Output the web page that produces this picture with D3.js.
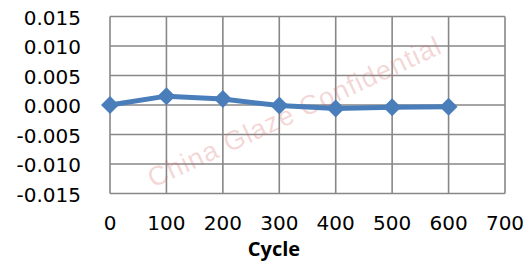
<!DOCTYPE html>
<html>
<head>
<meta charset="utf-8">
<script src="https://cdn.jsdelivr.net/npm/d3@7"></script>
<style>
html,body{margin:0;padding:0;background:#fff;}
svg{display:block;}
</style>
</head>
<body>
<svg id="chart" width="528" height="261"></svg>
<script>
const cycles = [0, 100, 200, 300, 400, 500, 600];
const values = [0.0000, 0.0015, 0.0010, -0.0001, -0.0006, -0.0004, -0.0003];
const xTicks = [0, 100, 200, 300, 400, 500, 600, 700];
const yTicks = [-0.015, -0.010, -0.005, 0.000, 0.005, 0.010, 0.015];
const xTitle = "Cycle";
const watermark = "China Glaze Confidential";

const svg = d3.select("#chart");
const x = d3.scaleLinear().domain([0, 700]).range([110, 505]);
const y = d3.scaleLinear().domain([-0.015, 0.015]).range([193.5, 16.5]);

const grid = svg.append("g");
grid.selectAll("line.h").data(yTicks).enter().append("line")
  .attr("x1", x(0)).attr("x2", x(700))
  .attr("y1", d => y(d)).attr("y2", d => y(d))
  .attr("stroke", "#878787").attr("stroke-width", 1.6);
grid.selectAll("line.v").data(xTicks).enter().append("line")
  .attr("y1", y(-0.015)).attr("y2", y(0.015))
  .attr("x1", d => x(d)).attr("x2", d => x(d))
  .attr("stroke", "#878787").attr("stroke-width", 1.6);

// y labels
svg.append("g").selectAll("text").data(yTicks).enter().append("text")
  .attr("x", 81).attr("y", d => y(d) + 8)
  .attr("text-anchor", "end")
  .attr("font-family", "DejaVu Sans")
  .attr("font-size", 20).attr("fill", "#000")
  .text(d => d3.format(".3f")(d).replace("−", "-"));

// x labels
svg.append("g").selectAll("text").data(xTicks).enter().append("text")
  .attr("x", d => x(d)).attr("y", 230)
  .attr("text-anchor", "middle")
  .attr("font-family", "DejaVu Sans")
  .attr("font-size", 20).attr("fill", "#000")
  .text(d => d);

svg.append("text").attr("x", 274).attr("y", 256)
  .attr("text-anchor", "middle")
  .attr("font-family", "Open Sans").attr("font-weight", "bold")
  .attr("font-size", 20).attr("fill", "#000")
  .text(xTitle);

// watermark
svg.append("text")
  .attr("transform", "translate(153,188) rotate(-25)")
  .attr("font-family", "Liberation Sans")
  .attr("font-size", 27)
  .attr("textLength", 320)
  .attr("fill", "rgba(215,110,110,0.28)")
  .text(watermark);

const pts = cycles.map((c, i) => [c, values[i]]);
svg.append("path").datum(pts)
  .attr("fill", "none").attr("stroke", "#4a7ebb").attr("stroke-width", 5)
  .attr("stroke-linejoin", "round")
  .attr("d", d3.line().x(d => x(d[0])).y(d => y(d[1])));

svg.append("g").selectAll("path").data(pts).enter().append("path")
  .attr("transform", d => `translate(${x(d[0])},${y(d[1])})`)
  .attr("d", "M0,-9L9,0L0,9L-9,0Z")
  .attr("fill", "#4a7ebb");
</script>
</body>
</html>
